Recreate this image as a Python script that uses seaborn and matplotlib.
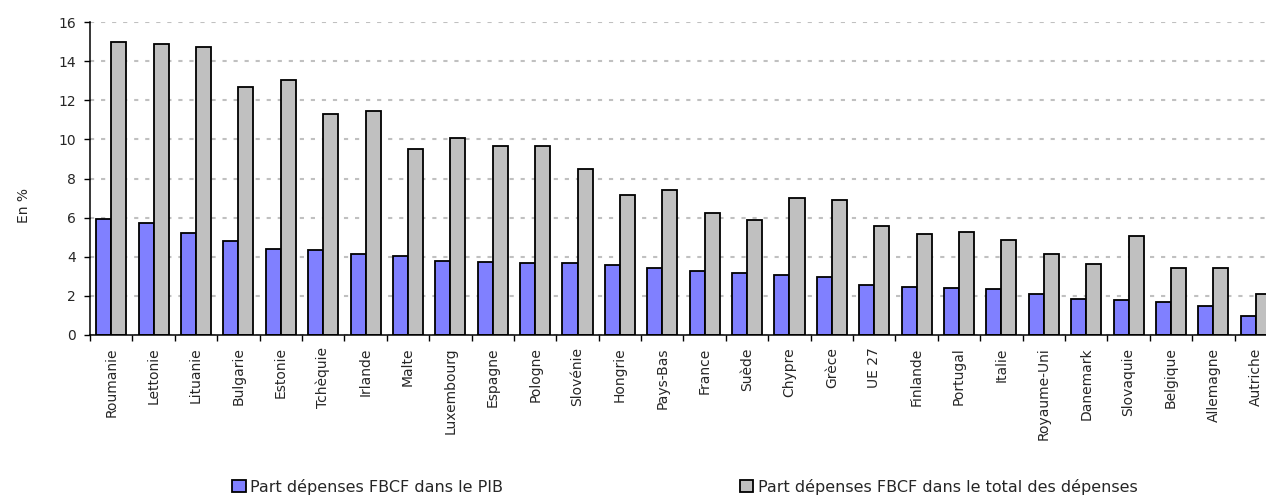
import matplotlib
matplotlib.use("Agg")
import matplotlib.pyplot as plt
import seaborn as sns
import pandas as pd
from matplotlib.ticker import FixedLocator, NullFormatter

# Countries, ordered by the share of GFCF spending in GDP
pays = ["Roumanie", "Lettonie", "Lituanie", "Bulgarie", "Estonie", "Tchèquie",
        "Irlande", "Malte", "Luxembourg", "Espagne", "Pologne", "Slovénie",
        "Hongrie", "Pays-Bas", "France", "Suède", "Chypre", "Grèce", "UE 27",
        "Finlande", "Portugal", "Italie", "Royaume-Uni", "Danemark",
        "Slovaquie", "Belgique", "Allemagne", "Autriche"]

# Part des dépenses FBCF dans le PIB (%)
part_pib = [5.92, 5.70, 5.22, 4.80, 4.40, 4.33, 4.16, 4.03, 3.77, 3.74, 3.70,
            3.67, 3.60, 3.41, 3.26, 3.16, 3.08, 2.98, 2.55, 2.45, 2.40, 2.33,
            2.10, 1.83, 1.79, 1.69, 1.49, 0.99]

# Part des dépenses FBCF dans le total des dépenses publiques (%)
part_total = [14.96, 14.90, 14.70, 12.68, 13.02, 11.30, 11.45, 9.52, 10.07,
              9.66, 9.66, 8.50, 7.17, 7.42, 6.22, 5.90, 6.98, 6.89, 5.55,
              5.14, 5.24, 4.84, 4.16, 3.62, 5.08, 3.44, 3.40, 2.10]

serie_pib = "Part dépenses FBCF dans le PIB"
serie_total = "Part dépenses FBCF dans le total des dépenses"

df = pd.DataFrame({
    "pays": pays * 2,
    "valeur": part_pib + part_total,
    "serie": [serie_pib] * len(pays) + [serie_total] * len(pays),
})

sns.set_style("white")
plt.rcParams["font.family"] = ["DejaVu Sans"]

W, H = 1266, 499
fig = plt.figure(figsize=(W / 100, H / 100), dpi=100)
ax = fig.add_axes([90 / W, 1 - 335 / H, 1187 / W, (335 - 22) / H])

sns.barplot(data=df, x="pays", y="valeur", hue="serie", order=pays,
            hue_order=[serie_pib, serie_total],
            palette={serie_pib: "#8080FF", serie_total: "#C0C0C0"},
            width=0.71, edgecolor="black", linewidth=1.3, saturation=1,
            errorbar=None, ax=ax)

handles, labels = ax.get_legend_handles_labels()
ax.get_legend().remove()

ax.set_xlim(-0.5, len(pays) - 0.5)
ax.set_ylim(0, 16)
ax.set_yticks(range(0, 17, 2))
ax.set_yticklabels([str(v) for v in range(0, 17, 2)], fontsize=10)

# horizontal dashed grid behind the bars
ax.set_axisbelow(True)
ax.yaxis.grid(True, color="#C0C0C0", linewidth=1.5, linestyle=(0, (2, 3.3)))
ax.xaxis.grid(False)

for side in ("top", "right"):
    ax.spines[side].set_visible(False)
for side in ("left", "bottom"):
    ax.spines[side].set_color("black")
    ax.spines[side].set_linewidth(1.1)

# category labels at the centres, tick marks between categories
ax.set_xticks(range(len(pays)))
ax.set_xticklabels(pays, rotation=90, fontsize=10)
ax.tick_params(axis="x", which="major", length=0, pad=9)
ax.xaxis.set_minor_locator(FixedLocator([i - 0.5 for i in range(len(pays) + 1)]))
ax.xaxis.set_minor_formatter(NullFormatter())
ax.tick_params(axis="x", which="minor", length=4, width=1, color="black",
               direction="out", bottom=True)
ax.tick_params(axis="y", length=4, width=1, color="black", direction="out",
               left=True, pad=6)

ax.set_xlabel("")
ax.set_ylabel("En %", fontsize=10)
ax.yaxis.set_label_coords(-0.050, 0.415)

fig.legend(handles, labels, loc="center", bbox_to_anchor=(0.541, 0.025),
           ncol=2, frameon=False, columnspacing=14.8, handlelength=0.85,
           handleheight=0.85, handletextpad=0.3,
           prop={"family": ["DejaVu Sans"], "size": 11.5})

fig.savefig("out.png", dpi=100)
